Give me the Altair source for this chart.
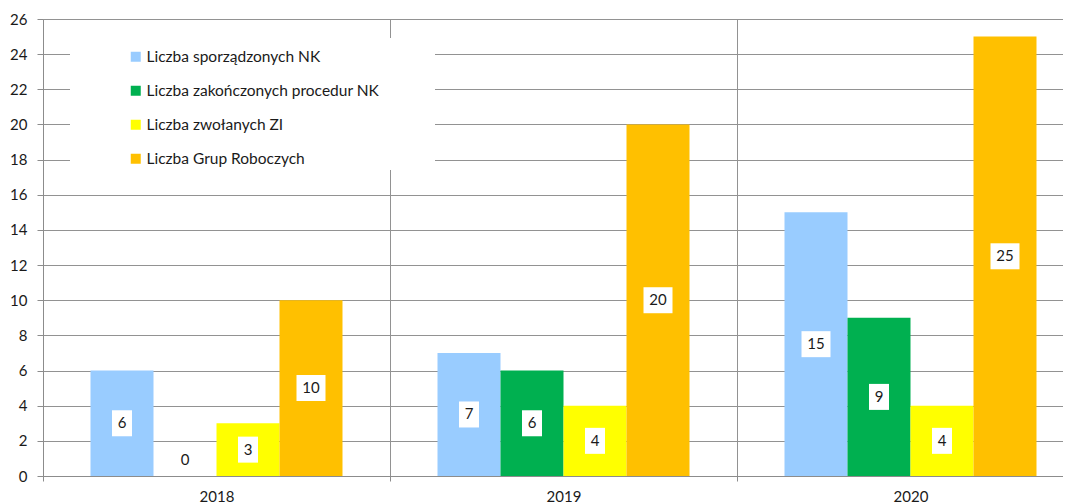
import altair as alt
import pandas as pd

years = ["2018", "2019", "2020"]
series = [
    "Liczba sporządzonych NK",
    "Liczba zakończonych procedur NK",
    "Liczba zwołanych ZI",
    "Liczba Grup Roboczych",
]
colors = ["#99CCFF", "#00B050", "#FFFF00", "#FFC000"]
v_sporzadzonych = [6, 7, 15]
v_zakonczonych = [0, 6, 9]
v_zwolanych = [3, 4, 4]
v_grup = [10, 20, 25]
y_ticks = list(range(0, 27, 2))

rows = []
for s, vals in zip(series, [v_sporzadzonych, v_zakonczonych, v_zwolanych, v_grup]):
    for i, (y, v) in enumerate(zip(years, vals)):
        rows.append({"year": y, "series": s, "order": series.index(s), "value": v})
df = pd.DataFrame(rows)

FONT = "Lato"
xscale = alt.Scale(domain=years, range=[0, 1041], paddingInner=0, paddingOuter=0)
yscale = alt.Scale(domain=[0, 26], nice=False)
xoff = alt.XOffset("series:N", sort=series,
                   scale=alt.Scale(domain=series, paddingInner=0, paddingOuter=0.754))

xaxis = alt.Axis(title=None, labelAngle=0, tickBand="extent", grid=True,
                 gridColor="#929292", tickColor="#8c8c8c", tickSize=5,
                 domainColor="#8c8c8c", labelFont=FONT, labelFontSize=15,
                 labelColor="#1a1a1a", labelPadding=8)
yaxis = alt.Axis(title=None, values=y_ticks, grid=True, gridColor="#929292",
                 tickColor="#8c8c8c", tickSize=6, domainColor="#8c8c8c",
                 labelFont=FONT, labelFontSize=15, labelColor="#1a1a1a",
                 labelPadding=10, labelOverlap=False)

base = alt.Chart(df)

legend_bg = alt.Chart(alt.Data(values=[{"a": 1}])).mark_rect(color="white").encode(
    x=alt.value(27), x2=alt.value(392), y=alt.value(19), y2=alt.value(151)
)

bars = base.mark_bar().encode(
    x=alt.X("year:N", scale=xscale, sort=years, axis=xaxis),
    xOffset=xoff,
    y=alt.Y("value:Q", scale=yscale, axis=yaxis),
    color=alt.Color("series:N", sort=series,
                    scale=alt.Scale(domain=series, range=colors),
                    legend=alt.Legend(title=None, orient="none", legendX=85, legendY=30,
                                      symbolType="square", symbolSize=100,
                                      symbolStrokeWidth=0, labelFont=FONT,
                                      labelFontSize=15.5, labelColor="#1a1a1a",
                                      labelLimit=0, rowPadding=17, labelOffset=3,
                                      padding=0)),
)

lab = base.transform_calculate(mid="max(datum.value/2, 0.9)")
lx = alt.X("year:N", scale=xscale, sort=years, axis=xaxis)
ly = alt.Y("mid:Q", scale=yscale, axis=yaxis)

boxes1 = lab.transform_filter("datum.value > 0 && datum.value < 10").mark_rect(
    color="white", width=20, height=26
).encode(x=lx, xOffset=xoff, y=ly)

boxes2 = lab.transform_filter("datum.value >= 10").mark_rect(
    color="white", width=29, height=26
).encode(x=lx, xOffset=xoff, y=ly)

texts = lab.mark_text(font=FONT, fontSize=15, color="#1a1a1a", baseline="middle").encode(
    x=lx, xOffset=xoff, y=ly, text="value:Q"
)

chart = alt.layer(legend_bg, bars, boxes1, boxes2, texts).properties(
    width=1020, height=457,
    autosize=alt.AutoSizeParams(type="none"),
    padding={"left": 35, "top": 11, "right": 0, "bottom": 28},
).configure_view(stroke=None).configure(background="white")

chart.save("out.html", embed_options={"renderer": "svg", "actions": False})
